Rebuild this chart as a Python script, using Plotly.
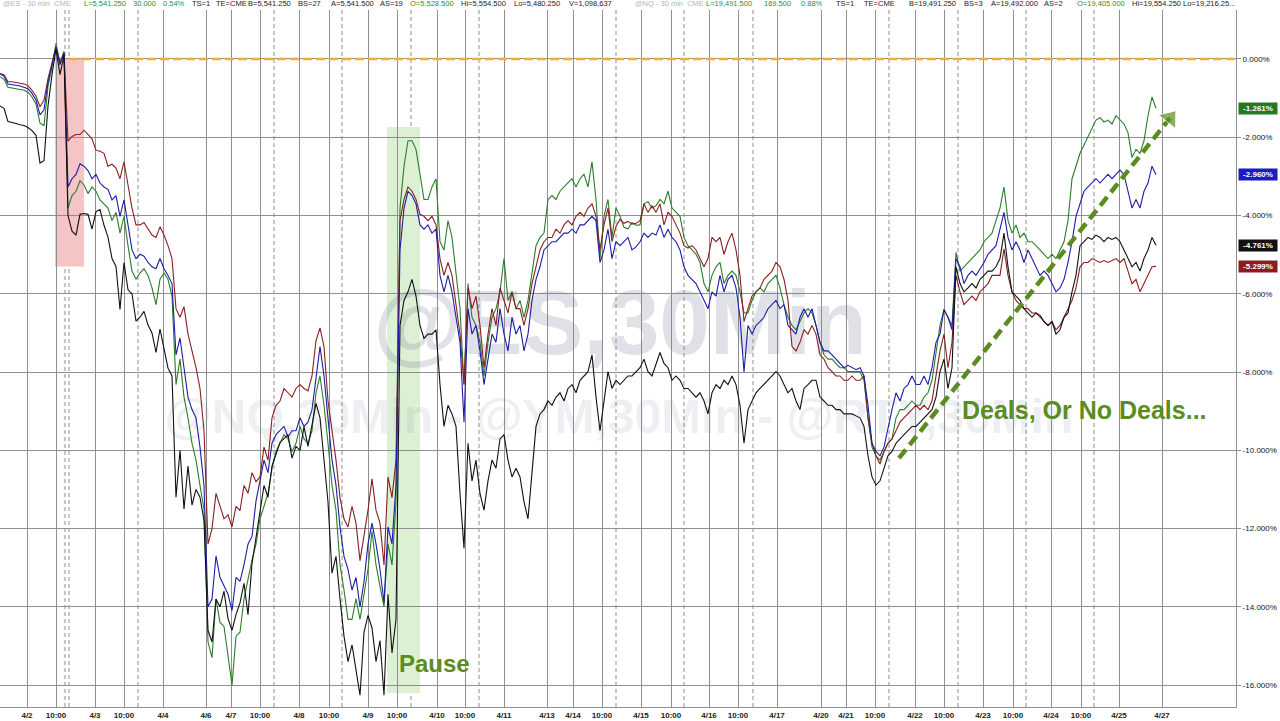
import plotly.graph_objects as go

# ---------------- data ----------------
# One value every sample step along the 30-min futures time axis (4/1 evening -> 4/27 evening)
ym = [
    -0.37, -0.40, -0.58, -0.58, -0.60, -0.62, -0.64, -0.68, -0.80, -0.95,
    -1.22, -1.05, -0.50, -0.10, 0.30, -0.10, 0.15, -2.10, -1.98, -1.93,
    -1.93, -1.82, -1.93, -2.04, -2.33, -2.36, -2.41, -2.74, -2.69, -2.79,
    -3.06, -2.63, -3.22, -3.81, -4.24, -4.24, -4.18, -4.35, -4.50, -4.56,
    -4.29, -4.50, -4.77, -5.10, -6.38, -6.60, -6.33, -7.03, -7.46, -7.89,
    -8.42, -9.50, -12.40, -12.00, -11.10, -11.43, -11.75, -11.65, -11.96, -11.43,
    -11.54, -10.90, -11.10, -10.57, -10.80, -10.68, -9.92, -10.25, -9.17, -8.85,
    -8.74, -8.42, -8.53, -8.64, -8.42, -8.32, -8.42, -8.48, -8.10, -7.20,
    -6.87, -7.35, -8.74, -9.50, -10.25, -11.21, -11.75, -11.96, -11.43, -11.86,
    -12.82, -12.18, -11.53, -10.73, -11.53, -11.86, -12.93, -10.68, -11.21, -10.25,
    -4.13, -3.59, -3.27, -3.38, -3.59, -3.97, -4.02, -4.13, -4.02, -4.24,
    -5.10, -5.53, -5.20, -5.53, -6.28, -7.03, -8.32, -5.85, -6.38, -6.06,
    -6.81, -7.89, -7.03, -6.38, -6.81, -5.85, -6.17, -6.49, -5.95, -6.38,
    -6.38, -6.81, -6.38, -5.74, -5.31, -4.88, -4.67, -4.56, -4.56, -4.35,
    -4.45, -4.24, -4.13, -4.24, -4.02, -3.92, -4.02, -3.81, -3.70, -4.02,
    -4.88, -4.24, -3.81, -4.67, -4.28, -4.10, -4.20, -4.15, -4.22, -4.20,
    -4.13, -3.70, -3.92, -3.75, -3.92, -3.70, -4.24, -3.92, -4.02, -4.24,
    -4.45, -4.77, -4.83, -4.77, -4.88, -5.10, -5.31, -5.10, -4.56, -4.67,
    -4.56, -4.99, -4.67, -4.45, -4.88, -5.53, -6.71, -6.38, -6.06, -5.95,
    -5.85, -5.63, -5.53, -5.42, -5.20, -5.31, -5.63, -6.17, -7.35, -7.46,
    -7.24, -6.92, -7.03, -6.81, -7.03, -7.56, -7.67, -7.89, -7.99, -8.10,
    -8.10, -8.21, -8.21, -8.10, -8.21, -8.21, -8.10, -9.17, -9.82, -10.14,
    -10.35, -10.03, -9.82, -9.71, -9.50, -9.28, -9.17, -9.07, -8.96, -8.85,
    -8.96, -8.85, -8.96, -8.74, -8.10, -7.46, -7.03, -7.89, -7.24, -5.53,
    -5.95, -6.28, -6.17, -6.06, -6.17, -5.95, -5.85, -5.74, -5.53, -5.53,
    -5.53, -4.85, -5.53, -5.95, -6.17, -6.28, -6.38, -6.38, -6.49, -6.49,
    -6.60, -6.71, -6.81, -6.71, -6.92, -6.81, -6.60, -6.38, -6.17, -5.85,
    -5.31, -5.20, -5.20, -5.10, -5.15, -5.20, -5.15, -5.20, -5.15, -5.10,
    -5.20, -5.10, -5.42, -5.74, -5.63, -5.95, -5.74, -5.53, -5.31, -5.30,
]
es = [
    -0.38, -0.44, -0.64, -0.65, -0.67, -0.69, -0.72, -0.76, -0.88, -1.05,
    -1.43, -1.30, -0.60, -0.15, 0.30, -0.15, 0.15, -3.27, -3.06, -2.95,
    -2.68, -2.74, -2.85, -3.06, -2.95, -3.17, -3.27, -3.33, -3.60, -3.49,
    -4.02, -3.60, -4.24, -4.88, -5.10, -4.99, -5.04, -5.20, -5.31, -5.36,
    -5.10, -5.36, -5.53, -5.74, -7.56, -7.13, -7.89, -8.64, -8.96, -9.17,
    -9.92, -10.90, -14.00, -13.80, -12.70, -13.25, -13.46, -13.68, -14.10, -13.25,
    -13.35, -12.93, -12.40, -12.20, -11.30, -10.78, -10.25, -10.57, -9.82, -9.60,
    -9.50, -9.39, -9.66, -9.50, -9.50, -9.17, -9.39, -9.28, -8.96, -8.10,
    -7.35, -8.10, -9.17, -10.25, -10.89, -11.96, -12.71, -13.04, -13.57, -13.25,
    -14.00, -13.36, -12.39, -11.86, -12.39, -13.04, -13.89, -11.96, -12.39, -10.89,
    -4.88, -3.81, -3.38, -3.49, -3.70, -4.24, -4.35, -4.24, -4.45, -4.35,
    -5.53, -5.95, -5.53, -5.95, -6.60, -7.24, -9.28, -6.38, -7.03, -6.81,
    -7.46, -8.32, -7.67, -7.03, -7.24, -6.38, -7.03, -7.46, -6.60, -7.03,
    -6.81, -7.46, -7.03, -6.17, -5.63, -5.31, -4.88, -4.77, -4.67, -4.67,
    -4.56, -4.45, -4.45, -4.35, -4.45, -4.24, -4.24, -4.13, -4.02, -4.13,
    -5.20, -4.88, -4.35, -5.10, -4.67, -4.77, -4.67, -4.56, -4.88, -4.80,
    -4.67, -4.45, -4.56, -4.45, -4.50, -4.24, -4.56, -4.35, -4.56, -4.67,
    -4.88, -5.31, -5.53, -5.63, -5.74, -5.95, -6.17, -6.38, -5.95, -6.06,
    -5.53, -5.95, -5.63, -5.53, -5.85, -6.60, -8.00, -6.81, -7.03, -6.81,
    -6.71, -6.60, -6.38, -6.28, -6.17, -6.38, -6.28, -6.81, -6.92, -7.03,
    -6.60, -6.38, -6.60, -6.38, -6.81, -7.24, -7.46, -7.46, -7.56, -7.67,
    -7.78, -7.89, -7.83, -7.89, -7.94, -7.89, -8.10, -8.85, -9.82, -10.03,
    -10.14, -9.92, -9.39, -8.96, -8.53, -8.74, -8.42, -8.32, -8.10, -8.32,
    -8.32, -8.10, -8.32, -7.89, -7.24, -7.03, -6.40, -6.60, -6.92, -5.10,
    -5.31, -5.74, -5.53, -5.42, -5.53, -5.36, -5.20, -4.99, -4.88, -4.77,
    -4.35, -3.92, -4.56, -4.88, -4.67, -4.88, -5.20, -4.88, -5.10, -5.31,
    -5.53, -5.42, -5.53, -5.74, -5.95, -5.85, -5.63, -5.20, -4.67, -4.02,
    -3.70, -3.38, -3.27, -3.17, -3.06, -3.17, -3.06, -2.95, -3.06, -2.95,
    -2.84, -2.95, -3.38, -3.81, -3.59, -3.81, -3.38, -3.17, -2.74, -2.96,
]
nq = [
    -0.45, -0.52, -0.72, -0.74, -0.76, -0.77, -0.80, -0.85, -0.97, -1.15,
    -1.64, -1.70, -0.70, -0.20, 0.40, -0.10, 0.20, -3.81, -3.49, -3.38,
    -3.11, -3.22, -3.44, -3.27, -3.38, -3.60, -3.70, -3.81, -4.13, -3.92,
    -4.45, -4.02, -4.77, -5.42, -5.63, -5.47, -5.36, -5.53, -5.85, -6.28,
    -5.63, -5.47, -5.63, -6.06, -8.32, -7.67, -8.64, -9.17, -9.82, -10.25,
    -10.90, -11.50, -14.90, -15.30, -13.80, -14.40, -14.50, -15.20, -16.00, -14.75,
    -14.65, -13.80, -13.25, -12.80, -12.40, -11.75, -11.43, -11.10, -10.46, -10.03,
    -9.82, -9.60, -9.71, -10.03, -9.82, -9.39, -9.71, -9.82, -9.50, -8.53,
    -8.10, -8.85, -9.82, -10.89, -11.53, -12.93, -13.57, -14.32, -14.32, -13.79,
    -14.32, -13.68, -13.04, -12.07, -12.93, -13.47, -14.00, -12.39, -12.93, -11.32,
    -3.81, -2.74, -2.09, -2.09, -2.31, -2.95, -3.59, -3.59, -3.27, -3.06,
    -4.67, -4.88, -4.13, -4.56, -5.53, -6.38, -8.32, -5.74, -6.60, -6.81,
    -7.24, -8.10, -7.24, -6.60, -6.38, -5.95, -5.10, -6.17, -5.95, -6.38,
    -6.17, -6.60, -6.17, -5.53, -4.77, -4.56, -4.45, -3.59, -3.49, -3.59,
    -3.38, -3.27, -3.17, -3.06, -3.27, -3.06, -2.95, -3.27, -2.63, -3.59,
    -5.10, -4.02, -3.59, -4.56, -3.81, -4.02, -4.30, -4.34, -4.18, -4.25,
    -4.24, -3.70, -3.65, -3.81, -3.75, -3.59, -3.70, -3.38, -3.81, -3.92,
    -4.02, -4.56, -4.77, -4.88, -4.99, -5.20, -5.74, -5.95, -5.53, -5.31,
    -5.20, -5.74, -5.53, -5.42, -5.53, -5.95, -6.49, -6.49, -6.17, -5.95,
    -5.85, -5.95, -5.74, -5.63, -5.53, -5.85, -6.28, -6.60, -6.81, -6.92,
    -6.71, -6.49, -6.38, -6.49, -6.81, -7.24, -7.56, -7.67, -7.67, -7.78,
    -7.89, -7.89, -7.99, -7.99, -7.99, -7.99, -8.21, -9.17, -9.92, -10.14,
    -10.25, -10.03, -9.82, -9.71, -9.17, -8.96, -8.96, -8.85, -8.74, -8.85,
    -8.85, -8.64, -8.53, -8.21, -7.46, -6.81, -6.40, -6.60, -6.81, -4.94,
    -5.42, -5.31, -5.20, -5.10, -4.99, -4.88, -4.67, -4.56, -4.45, -4.13,
    -3.81, -3.27, -4.13, -4.45, -4.24, -4.56, -4.45, -4.67, -4.67, -4.77,
    -4.88, -4.99, -5.10, -4.99, -5.10, -4.88, -4.67, -4.13, -3.06, -2.74,
    -2.41, -2.20, -1.98, -1.77, -1.56, -1.50, -1.61, -1.56, -1.66, -1.45,
    -1.56, -1.66, -1.88, -2.52, -2.31, -2.41, -2.09, -1.45, -0.97, -1.26,
]
rty = [
    -1.20, -1.26, -1.60, -1.62, -1.65, -1.68, -1.70, -1.75, -1.83, -1.95,
    -2.66, -2.60, -1.20, -0.40, 0.25, -0.40, 0.10, -4.00, -4.40, -4.50,
    -3.97, -3.95, -3.97, -4.35, -3.90, -3.85, -4.25, -4.55, -5.10, -5.30,
    -6.40, -5.20, -5.90, -6.00, -6.70, -6.60, -6.45, -6.80, -7.00, -7.50,
    -6.90, -7.40, -7.90, -8.10, -11.20, -10.00, -11.50, -10.40, -11.40, -11.00,
    -11.20, -11.80, -14.60, -14.90, -13.80, -14.00, -13.60, -14.30, -14.60, -14.20,
    -13.90, -13.40, -14.20, -12.90, -12.20, -11.50, -10.90, -11.20, -10.40, -10.10,
    -9.80, -9.70, -9.60, -10.20, -9.90, -10.00, -9.40, -9.90, -9.30, -8.80,
    -9.17, -10.25, -11.32, -13.14, -12.71, -13.79, -14.75, -15.40, -14.97, -15.61,
    -16.26, -14.65, -14.22, -14.54, -15.40, -14.86, -16.26, -13.68, -15.18, -14.32,
    -6.81, -6.17, -5.95, -5.63, -6.06, -6.81, -7.14, -7.03, -7.03, -6.92,
    -8.32, -9.39, -8.85, -9.07, -9.39, -11.11, -12.50, -9.82, -10.78, -10.25,
    -11.11, -11.53, -10.78, -10.25, -10.46, -9.71, -9.60, -10.25, -10.68, -10.46,
    -10.68, -11.32, -11.75, -10.57, -9.39, -9.07, -8.96, -8.74, -8.85, -8.64,
    -8.53, -8.74, -8.42, -8.32, -8.53, -8.21, -8.10, -7.99, -7.56, -8.64,
    -9.50, -8.74, -7.99, -8.42, -8.21, -8.32, -8.21, -8.10, -8.10, -8.00,
    -7.89, -7.67, -7.99, -8.10, -7.78, -7.50, -7.78, -7.89, -8.21, -8.10,
    -8.21, -8.42, -8.42, -8.53, -8.64, -8.53, -8.74, -9.07, -8.53, -8.32,
    -8.42, -8.21, -8.32, -8.10, -8.32, -8.85, -9.82, -8.96, -8.74, -8.53,
    -8.42, -8.32, -8.21, -8.10, -7.99, -8.10, -8.32, -8.53, -8.42, -8.74,
    -8.96, -8.42, -8.32, -8.21, -8.21, -8.64, -8.74, -8.85, -8.85, -8.96,
    -8.96, -9.07, -9.07, -9.07, -9.12, -9.17, -9.39, -10.14, -10.68, -10.89,
    -10.78, -10.46, -10.14, -10.03, -9.82, -9.71, -9.60, -9.50, -9.39, -9.39,
    -9.28, -9.17, -9.07, -8.96, -8.64, -7.99, -7.67, -8.42, -7.89, -5.31,
    -5.74, -5.95, -5.85, -5.74, -5.85, -5.63, -5.53, -5.42, -5.42, -5.31,
    -5.10, -4.45, -5.31, -5.95, -6.06, -6.17, -6.38, -6.49, -6.60, -6.49,
    -6.55, -6.71, -6.81, -6.71, -7.03, -6.92, -6.60, -6.49, -5.95, -5.53,
    -4.77, -4.67, -4.56, -4.61, -4.50, -4.56, -4.67, -4.56, -4.61, -4.56,
    -4.67, -4.88, -5.10, -5.31, -5.20, -5.42, -5.10, -4.88, -4.56, -4.76,
]

# latest readings shown in the right-hand tags
last_nq, last_es, last_rty, last_ym = -1.261, -2.960, -4.761, -5.299

# time-axis labels (positions in sample steps)
tick_pos = [6.75, 14, 23.75, 31, 40.75, 51.5, 57.75, 65, 74.75, 82.25, 92, 99.25,
            109.25, 116.25, 126, 136.75, 143.25, 150.5, 160.25, 167.75, 177.25,
            184.5, 194.25, 205.25, 211.5, 218.75, 228.75, 236, 245.75, 253.25,
            262.75, 270.25, 279.75, 290.5]
tick_text = ["4/2", "10:00", "4/3", "10:00", "4/4", "4/6", "4/7", "10:00", "4/8",
             "10:00", "4/9", "10:00", "4/10", "10:00", "4/11", "4/13", "4/14",
             "10:00", "4/15", "10:00", "4/16", "10:00", "4/17", "4/20", "4/21",
             "10:00", "4/22", "10:00", "4/23", "10:00", "4/24", "10:00", "4/25", "4/27"]
session_marks = [16.25, 17.25, 34.5, 68.5, 85.5, 102.75, 119.75, 154, 171, 188.25,
                 222.25, 239.5, 256.5, 273.5]
y_ticks = [0, -2, -4, -6, -8, -10, -12, -14, -16]

# highlighted episodes (start, end, top %, bottom %)
liberation_span = (13.75, 21.0, 0.0, -5.3)
pause_span = (96.75, 105.0, -1.74, -16.2)
deals_arrow_t = [224.75, 292.5]
deals_arrow_v = [-10.2, -1.51]

# ---------------- styling ----------------
FONT = "Liberation Sans, Arial, sans-serif"
GREEN, BLUE, BLACK, RED = "#2b7d2b", "#1d1da8", "#111111", "#8a1f1f"
OLIVE = "#5b8c1f"
GRID = "#8f8f8f"

fig = go.Figure()

# watermark (drawn first so it sits behind the series)
fig.add_trace(go.Scatter(
    x=[155, 154.75], y=[-6.95, -9.25], mode="text",
    text=["<b>@ES,30Min</b>", "<b>@NQ,30Min - @YM,30Min - @RTY,30Min</b>"],
    textfont=dict(family=FONT, size=[91, 48],
                  color=["rgba(120,130,155,0.24)", "rgba(120,130,155,0.15)"]),
    hoverinfo="skip", showlegend=False))

for name, vals, col in [("NQ", nq, GREEN), ("YM", ym, RED), ("ES", es, BLUE), ("RTY", rty, BLACK)]:
    fig.add_trace(go.Scatter(
        x=list(range(len(vals))), y=vals, mode="lines", name=name,
        line=dict(color=col, width=1.1), showlegend=False))

# dashed "deals" arrow
fig.add_trace(go.Scatter(
    x=deals_arrow_t, y=deals_arrow_v, mode="lines+markers",
    line=dict(color=OLIVE, width=4.5, dash="11px,6px"),
    marker=dict(size=[0, 19], symbol="triangle-up", angleref="previous", color=OLIVE),
    hoverinfo="skip", showlegend=False))

shapes = []
# shaded episodes
for (x0, x1, ytop, ybot), fill in [(liberation_span, "#f5c4c4"), (pause_span, "#dcf0d4")]:
    shapes.append(dict(type="rect", xref="x", yref="y", x0=x0, x1=x1, y0=ybot, y1=ytop,
                       fillcolor=fill, line=dict(width=0), layer="below"))
# session dashed markers
for s in session_marks:
    shapes.append(dict(type="line", xref="x", yref="paper", x0=s, x1=s, y0=0, y1=1,
                       line=dict(color=GRID, width=1, dash="4px,3px"), layer="between"))
# orange zero reference
shapes.append(dict(type="line", xref="x", yref="y", x0=session_marks[1], x1=309, y0=0, y1=0,
                   line=dict(color="#f2ac3c", width=2.5, dash="9px,4px"), layer="above"))

annotations = []
annotations.append(dict(x=108.5, y=-15.46, xref="x", yref="y", text="<b>Pause</b>", showarrow=False,
                        font=dict(family=FONT, size=24, color=OLIVE)))
annotations.append(dict(x=271, y=-8.97, xref="x", yref="y", text="<b>Deals, Or No Deals...</b>",
                        showarrow=False, font=dict(family=FONT, size=25, color=OLIVE)))

# right-side last value tags
for v, col in [(last_nq, "#237a23"), (last_es, "#1c1cc0"), (last_rty, "#111111"), (last_ym, "#8b1c1c")]:
    annotations.append(dict(x=1, xref="paper", xanchor="left", xshift=2, y=v, yref="y",
                            text=f"<b>{v:.3f}%</b>", showarrow=False, bgcolor=col,
                            font=dict(family=FONT, size=8, color="white"),
                            width=38, height=11, borderpad=0))

# header quote strip
header = [
    ("@ES - 30 min  CME", "#b5b5b5", 1), ("L=5,541.250", "#2f8f2f", 82), ("30.000", "#2f8f2f", 131),
    ("0.54%", "#2f8f2f", 161), ("TS=1", "#222", 190), ("TE=CME", "#222", 214),
    ("B=5,541.250", "#222", 246), ("BS=27", "#222", 296), ("A=5,541.500", "#222", 329),
    ("AS=19", "#222", 378), ("O=5,528.500", "#2f8f2f", 408), ("Hi=5,554.500", "#222", 459),
    ("Lo=5,480.250", "#222", 512), ("V=1,098,637", "#222", 567),
    ("@NQ - 30 min  CME", "#b5b5b5", 633), ("L=19,491.500", "#2f8f2f", 704),
    ("169.500", "#2f8f2f", 762), ("0.88%", "#2f8f2f", 799), ("TS=1", "#222", 834),
    ("TE=CME", "#222", 862), ("B=19,491.250", "#222", 907), ("BS=3", "#222", 962),
    ("A=19,492.000", "#222", 989), ("AS=2", "#222", 1042), ("O=19,405.000", "#2f8f2f", 1075),
    ("Hi=19,554.250", "#222", 1130), ("Lo=19,216.25...", "#222", 1181),
]
for txt, col, px in header:
    annotations.append(dict(x=px / 1236, xref="paper", xanchor="left", y=1, yref="paper",
                            yanchor="bottom", text=txt, showarrow=False,
                            font=dict(family=FONT, size=7.5, color=col)))

fig.update_layout(
    width=1280, height=721,
    margin=dict(l=0, r=44, t=10, b=14),
    paper_bgcolor="white", plot_bgcolor="white",
    showlegend=False,
    font=dict(family=FONT, size=8, color="#111"),
    shapes=shapes, annotations=annotations,
    xaxis=dict(range=[0, 309], tickmode="array", tickvals=tick_pos,
               ticktext=[f"<b>{t}</b>" for t in tick_text],
               showgrid=True, gridcolor=GRID, gridwidth=1, zeroline=False,
               showline=True, linecolor=GRID, linewidth=1, ticks="",
               tickfont=dict(family=FONT, size=8, color="#222")),
    yaxis=dict(range=[-16.56, 1.252], side="right", tickmode="array", tickvals=y_ticks,
               ticktext=[f"{v:.3f}%" for v in y_ticks],
               showgrid=True, gridcolor=GRID, gridwidth=1, zeroline=False,
               showline=True, linecolor=GRID, linewidth=1,
               ticks="outside", ticklen=4, tickcolor=GRID,
               tickfont=dict(family=FONT, size=8, color="#111")),
)

fig.write_html("out.html", config={"displayModeBar": False},
               post_script="document.body.style.margin='0px';"
                           "document.body.style.overflow='hidden';")
